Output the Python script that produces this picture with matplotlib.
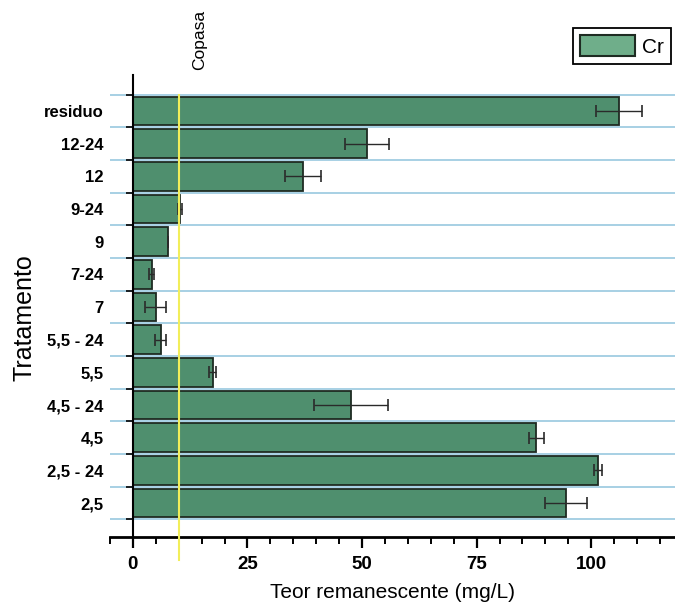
import matplotlib
matplotlib.use("Agg")
import matplotlib.pyplot as plt
from matplotlib.ticker import MultipleLocator, FixedLocator
from matplotlib.patches import Patch
import matplotlib.transforms as mtransforms

plt.rcParams['font.family'] = ['Liberation Sans', 'DejaVu Sans']

categories = ["2,5", "2,5 - 24", "4,5", "4,5 - 24", "5,5", "5,5 - 24", "7", "7-24",
              "9", "9-24", "12", "12-24", "residuo"]
values = [94.5, 101.5, 88.0, 47.6, 17.4, 6.1, 5.0, 4.1, 7.7, 10.3, 37.1, 51.1, 106.1]
errors = [4.5, 0.8, 1.6, 8.0, 0.7, 1.2, 2.3, 0.5, 0.0, 0.4, 4.0, 4.8, 5.0]
copasa = 10
x_ticks = [0, 25, 50, 75, 100]

bar_color = "#4f8f6e"
edge_color = "#1e2b22"
grid_color = "#8fc3dc"

fig = plt.figure(figsize=(6.75, 6.08), dpi=100)
ax = fig.add_axes([110/675, 1-537/608, 566/675, (537-75)/608])

pos = list(range(len(categories)))
ax.barh(pos, values, height=0.88, color=bar_color, edgecolor=edge_color,
        linewidth=1.3, zorder=3)
ax.errorbar(values, pos, xerr=errors, fmt='none', ecolor="#2a2a2a",
            elinewidth=1.0, capsize=4, capthick=1.2, zorder=4)

ax.set_xlim(-5, 118.5)
ax.set_ylim(-1.04, 13.1)

# spines
for s in ['top', 'right']:
    ax.spines[s].set_visible(False)
ax.spines['left'].set_position(('data', 0))
ax.spines['left'].set_linewidth(1.5)
ax.spines['bottom'].set_linewidth(2.0)
ax.spines['left'].set_zorder(5)

# x ticks
ax.xaxis.set_major_locator(FixedLocator(x_ticks))
ax.xaxis.set_minor_locator(MultipleLocator(5))
ax.tick_params(axis='x', which='major', length=8, width=1.6, direction='out',
               labelsize=13.5, pad=6)
ax.tick_params(axis='x', which='minor', length=5, width=1.4, direction='out')
for lbl in ax.get_xticklabels():
    lbl.set_fontweight('bold')

# y ticks
ax.set_yticks(pos)
ax.set_yticklabels(categories, fontweight='bold', fontsize=12)
ax.yaxis.set_minor_locator(FixedLocator([p - 0.5 for p in pos] + [pos[-1] + 0.5]))
ax.tick_params(axis='y', which='major', length=0, pad=21)
ax.tick_params(axis='y', which='minor', length=5, width=1.2, direction='out')
ax.yaxis.grid(True, which='minor', color=grid_color, linewidth=1.1, zorder=1)
ax.set_axisbelow(True)

# Copasa line
ax.axvline(copasa, ymin=-0.05, ymax=(537-95)/462, color="#f2ee5a",
           linewidth=1.5, zorder=6, clip_on=False)
trans = mtransforms.blended_transform_factory(ax.transData, ax.transAxes)
ax.text(14.6, 1 + 5/462, "Copasa", rotation=90, ha='center', va='bottom',
        fontsize=12.5, transform=trans)

ax.set_xlabel("Teor remanescente (mg/L)", fontsize=15, labelpad=7)
fig.text(25/675, 1-318/608, "Tratamento", rotation=90, ha='center', va='center',
         fontsize=18)

handle = Patch(facecolor="#6fae8a", edgecolor=edge_color, linewidth=1.5)
leg = ax.legend([handle], ["Cr"], loc='upper right',
                bbox_to_anchor=(671/675, 1-28/608), bbox_transform=fig.transFigure,
                borderaxespad=0, fancybox=False, edgecolor='black', framealpha=1,
                fontsize=15, handlelength=2.6, handleheight=1.15,
                handletextpad=0.35, borderpad=0.35)
leg.get_frame().set_linewidth(1.3)

fig.savefig("out.png", dpi=100)
